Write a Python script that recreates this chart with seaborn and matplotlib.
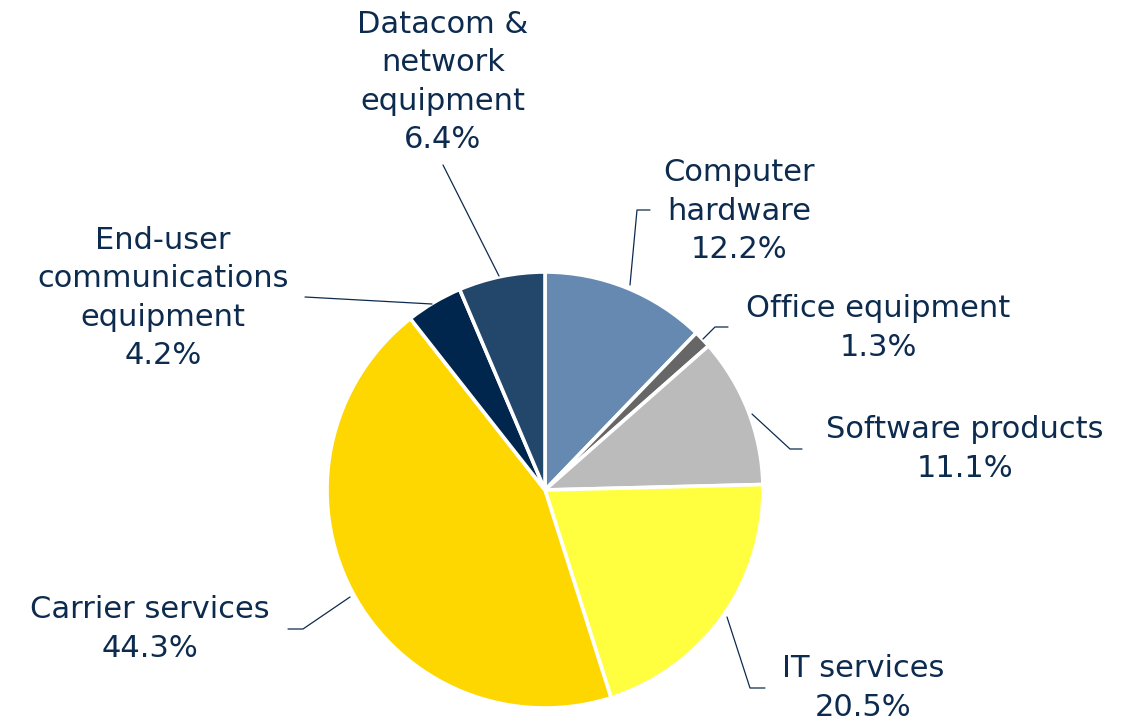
import matplotlib
matplotlib.use("Agg")
import matplotlib.pyplot as plt
import seaborn as sns

sns.set_theme(style="white")
plt.rcParams["font.family"] = ["DejaVu Sans"]

categories = [
    "Computer\nhardware",
    "Office equipment",
    "Software products",
    "IT services",
    "Carrier services",
    "End-user\ncommunications\nequipment",
    "Datacom &\nnetwork\nequipment",
]
shares = [12.2, 1.3, 11.1, 20.5, 44.3, 4.2, 6.4]
colors = ["#6589b0", "#666666", "#bbbbbb", "#ffff40", "#ffd700", "#00264d", "#23466b"]

TEXT_COLOR = "#0d2b4f"
W, H = 1126, 723
CENTER = (545, 490)
RADIUS = 218

# label text centre (px) and leader polyline (px), image coordinates
LAYOUT = [
    ((739, 211), [(630, 285), (637, 210), (650, 210)]),
    ((878, 328), [(703, 339), (715, 327), (728, 327)]),
    ((965, 449), [(752, 414), (790, 449), (802, 449)]),
    ((863, 688), [(727, 617), (750, 688), (765, 688)]),
    ((150, 629), [(350, 597), (303, 629), (288, 629)]),
    ((163, 298), [(432, 304), (305, 297)]),
    ((443, 82), [(499, 276), (443, 165)]),
]


def px(x, y):
    return x, H - y


def main():
    fig = plt.figure(figsize=(W / 100, H / 100), dpi=100)
    ax = fig.add_axes([0, 0, 1, 1])

    ax.pie(
        shares,
        colors=colors,
        startangle=90,
        counterclock=False,
        center=px(*CENTER),
        radius=RADIUS,
        wedgeprops={"edgecolor": "white", "linewidth": 2.6},
        frame=True,
    )
    ax.set_xlim(0, W)
    ax.set_ylim(0, H)
    ax.set_aspect("equal")
    ax.axis("off")

    for name, share, (pos, line) in zip(categories, shares, LAYOUT):
        xs, ys = zip(*[px(x, y) for x, y in line])
        ax.plot(xs, ys, color=TEXT_COLOR, linewidth=0.9)
        ax.text(*px(*pos), f"{name}\n{share:.1f}%", ha="center", va="center",
                fontsize=22, color=TEXT_COLOR, linespacing=1.42)

    fig.savefig("out.png", dpi=100, facecolor="white")
    plt.close(fig)


if __name__ == "__main__":
    main()
